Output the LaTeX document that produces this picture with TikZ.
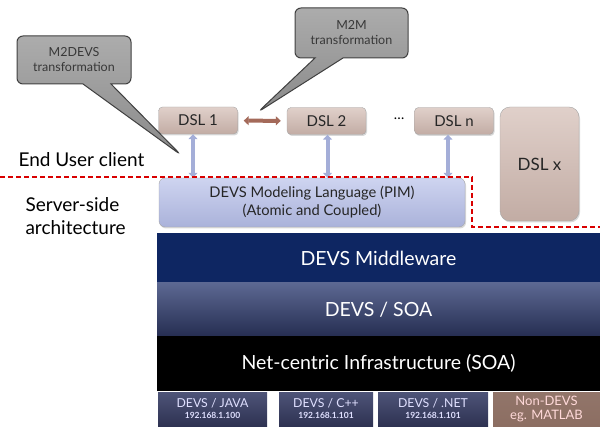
\documentclass[tikz,border=0pt]{standalone}
\usepackage{fontspec}
\setmainfont{Lato}
\usetikzlibrary{arrows.meta, shapes.callouts, shadows}
\definecolor{dsltop}{RGB}{224,208,202}
\definecolor{dslbot}{RGB}{194,172,164}
\definecolor{pimtop}{RGB}{206,212,240}
\definecolor{pimbot}{RGB}{170,178,218}
\definecolor{mwnavy}{RGB}{14,38,98}
\definecolor{soatop}{RGB}{92,104,146}
\definecolor{soabot}{RGB}{38,46,82}
\definecolor{plattop}{RGB}{78,84,120}
\definecolor{platbot}{RGB}{46,50,82}
\definecolor{nondevs}{RGB}{140,110,98}
\definecolor{linkblue}{RGB}{164,174,216}
\definecolor{linkbrown}{RGB}{164,106,90}
\definecolor{talktop}{RGB}{172,172,172}
\definecolor{talkbot}{RGB}{138,138,138}

\begin{document}
\begin{tikzpicture}[x=1pt, y=1pt,
  dsl/.style={draw=gray!70, rounded corners=4pt, top color=dsltop, bottom color=dslbot,
    minimum width=79pt, minimum height=27pt, inner sep=0pt, text=black!85,
    font=\fontsize{15}{17}\selectfont,
    drop shadow={shadow xshift=1pt, shadow yshift=-1.5pt, opacity=.3}},
  band/.style={minimum width=443pt, inner sep=0pt, text=white, font=\fontsize{19.5}{22}\selectfont},
  platbox/.style={minimum height=34pt, inner sep=0pt, align=center, text=white!88!blue,
    top color=plattop, bottom color=platbot, font=\fontsize{12.3}{12}\selectfont},
  link/.style={line width=4pt, linkblue, {Triangle[length=5pt,width=9pt]}-{Triangle[length=5pt,width=9pt]}},
  xlink/.style={line width=4pt, linkbrown, {Triangle[length=5pt,width=9pt]}-{Triangle[length=5pt,width=9pt]}},
  talk/.style={rectangle callout, rounded corners=6pt, draw=black!75, line width=1pt,
    top color=talktop, bottom color=talkbot, text=black!78, align=center, inner sep=0pt,
    font=\fontsize{12.5}{15}\selectfont, callout pointer width=28pt},
  layer/.style={font=\fontsize{19}{23}\selectfont, anchor=west, align=left}]
  \useasboundingbox (0,0) rectangle (600,426);

  \node[band, fill=mwnavy, minimum height=50pt] (mw) at (378.5,168) {DEVS Middleware};
  \node[band, top color=soatop, bottom color=soabot, minimum height=53pt] (soa) at (378.5,116.5) {DEVS / SOA};
  \node[band, fill=black, minimum height=55pt] (net) at (378.5,62.5) {Net-centric Infrastructure (SOA)};

  \node[platbox, minimum width=109pt] (java) at (212.5,17) {DEVS / JAVA\\[-1pt] {\fontsize{8.5}{9}\selectfont\bfseries 192.168.1.100}};
  \node[platbox, minimum width=94pt] (cpp) at (326,17) {DEVS / C++\\[-1pt] {\fontsize{8.5}{9}\selectfont\bfseries 192.168.1.101}};
  \node[platbox, minimum width=110pt] (dotnet) at (433,17) {DEVS / .NET\\[-1pt] {\fontsize{8.5}{9}\selectfont\bfseries 192.168.1.101}};
  \node[platbox, minimum width=107pt, top color=nondevs!95, bottom color=nondevs, text=white!85!red,
    font=\fontsize{13}{14}\selectfont] (matlab) at (546.5,17) {Non-DEVS\\ eg. MATLAB};

  \node[draw=gray!70, rounded corners=6pt, top color=pimtop, bottom color=pimbot,
    minimum width=306pt, minimum height=49pt, inner sep=0pt, align=center, text=black!85,
    font=\fontsize{14.7}{18}\selectfont,
    drop shadow={shadow xshift=1pt, shadow yshift=-1.5pt, opacity=.3}] (pim) at (312,223.5)
    {DEVS Modeling Language (PIM)\\(Atomic and Coupled)};

  \node[dsl] (dsla) at (198,305.5) {DSL 1};
  \node[dsl] (dslb) at (326.5,305) {DSL 2};
  \node[dsl] (dsln) at (454,305) {DSL n};
  \node[dsl, minimum height=114pt, rounded corners=10pt, font=\fontsize{17}{19}\selectfont] (dslx) at (539.5,262) {DSL x};
  \node[font=\fontsize{14}{15}\selectfont] (dots) at (399,307) {\dots};

  \draw[xlink, shorten <=6pt, shorten >=6pt] (dsla) -- (dslb);
  \draw[link] ([xshift=-5pt]dsla.south) -- ([xshift=-5pt]dsla.south |- pim.north);
  \draw[link] ([xshift=1pt]dslb.south) -- ([xshift=1pt]dslb.south |- pim.north);
  \draw[link] ([xshift=-6pt]dsln.south) -- ([xshift=-6pt]dsln.south |- pim.north);

  \draw[red!85!black, line width=1.5pt, dash pattern=on 5pt off 3pt] (0,249) -- (472,249) -- (472,199) -- (600,199);

  \node[layer] (client) at (15,266) {End User client};
  \node[layer] (server) at (22,210) {Server-side\\architecture};

  \coordinate (tipa) at (181,271);
  \coordinate (tipb) at (258,314);
  \node[talk, minimum width=114pt, minimum height=48pt, callout absolute pointer={(tipa)}] (mdevs) at (74,366) {M2DEVS\\transformation};
  \node[talk, minimum width=113pt, minimum height=50pt, callout absolute pointer={(tipb)}] (mm) at (351.5,393) {M2M\\transformation};
\end{tikzpicture}
\end{document}
